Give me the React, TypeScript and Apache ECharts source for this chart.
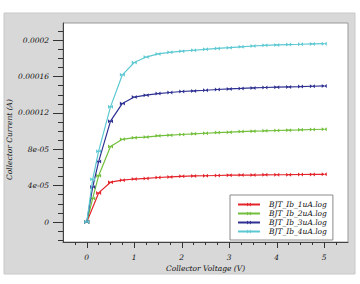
import React, { useEffect, useRef } from "react";
import * as echarts from "echarts";

const seriesNames = ["BJT_Ib_1uA.log", "BJT_Ib_2uA.log", "BJT_Ib_3uA.log", "BJT_Ib_4uA.log"];
const seriesColors = ["#e3242b", "#72bf3c", "#2e3192", "#5cc8d2"];

const xRed = [0, 0.25, 0.5, 0.75, 1, 1.25, 1.5, 1.75, 2, 2.25, 2.5, 2.75, 3, 3.25, 3.5, 3.75, 4, 4.25, 4.5, 4.75, 5];
const xFine = [0, 0.125, 0.25, 0.5, 0.75, 1, 1.25, 1.5, 1.75, 2, 2.25, 2.5, 2.75, 3, 3.25, 3.5, 3.75, 4, 4.25, 4.5, 4.75, 5];

const ib1 = [0, 3.2e-5, 4.38e-5, 4.6e-5, 4.73e-5, 4.8e-5, 4.9e-5, 4.96e-5, 5.03e-5, 5.07e-5, 5.09e-5, 5.12e-5, 5.15e-5, 5.16e-5, 5.17e-5, 5.19e-5, 5.2e-5, 5.21e-5, 5.23e-5, 5.24e-5, 5.25e-5];
const ib2 = [0, 2.6e-5, 5.1e-5, 8.3e-5, 9.1e-5, 9.28e-5, 9.35e-5, 9.48e-5, 9.56e-5, 9.63e-5, 9.7e-5, 9.77e-5, 9.84e-5, 9.89e-5, 9.95e-5, 1.0e-4, 1.003e-4, 1.007e-4, 1.011e-4, 1.014e-4, 1.018e-4, 1.021e-4];
const ib3 = [0, 3.85e-5, 6.65e-5, 1.11e-4, 1.305e-4, 1.375e-4, 1.396e-4, 1.413e-4, 1.425e-4, 1.436e-4, 1.443e-4, 1.45e-4, 1.458e-4, 1.465e-4, 1.47e-4, 1.476e-4, 1.48e-4, 1.484e-4, 1.487e-4, 1.49e-4, 1.494e-4, 1.498e-4];
const ib4 = [0, 4.7e-5, 7.8e-5, 1.267e-4, 1.62e-4, 1.755e-4, 1.815e-4, 1.85e-4, 1.867e-4, 1.88e-4, 1.89e-4, 1.9e-4, 1.91e-4, 1.918e-4, 1.928e-4, 1.937e-4, 1.944e-4, 1.949e-4, 1.953e-4, 1.956e-4, 1.96e-4, 1.963e-4];

const yMajorTicks = [0, 4e-5, 8e-5, 1.2e-4, 1.6e-4, 2e-4];
const yMajorLabels = ["0", "4e-05", "8e-05", "0.00012", "0.00016", "0.0002"];
const yMinorTicks = [-2e-5, -1e-5, 1e-5, 2e-5, 3e-5, 5e-5, 6e-5, 7e-5, 9e-5, 1e-4, 1.1e-4, 1.3e-4, 1.4e-4, 1.5e-4, 1.7e-4, 1.8e-4, 1.9e-4, 2.1e-4];
const xMajorTicks = [0, 1, 2, 3, 4, 5];
const xMajorLabels = ["0", "1", "2", "3", "4", "5"];
const xMinorTicks = [-0.25, 0.25, 0.5, 0.75, 1.25, 1.5, 1.75, 2.25, 2.5, 2.75, 3.25, 3.5, 3.75, 4.25, 4.5, 4.75, 5.25];

const X_MIN = -0.5;
const X_MAX = 5.5;
const Y_MIN = -0.000022;
const Y_MAX = 0.000219;

const FONT = "DejaVu Serif";
const MARKER = "path://M0,0L10,10L10,0L0,10Z";

function pairs(xs: number[], ys: number[]) {
  return xs.map((x, i) => [x, ys[i]]);
}

export default function App() {
  const ref = useRef<HTMLDivElement>(null);
  useEffect(() => {
    if (!ref.current) return;
    const chart = echarts.init(ref.current, undefined, { renderer: "svg" });
    const labelStyle = { fontFamily: FONT, fontStyle: "italic" as const, fontSize: 7.5, color: "#111" };
    const seriesData = [pairs(xRed, ib1), pairs(xFine, ib2), pairs(xFine, ib3), pairs(xFine, ib4)];
    chart.setOption({
      animation: false,
      backgroundColor: "#ffffff",
      graphic: [
        {
          type: "rect",
          silent: true,
          z: -100,
          shape: { x: 4, y: 13, width: 351, height: 261 },
          style: { fill: "#d8d8d8", stroke: "#c8c8c8", lineWidth: 1 },
        },
      ],
      grid: {
        left: 63,
        top: 23,
        right: 12,
        bottom: 42,
        containLabel: false,
        outerBoundsMode: "none",
        show: true,
        backgroundColor: "#ffffff",
        borderColor: "#9a9a9a",
        borderWidth: 1,
      },
      legend: {
        orient: "vertical",
        left: 230,
        top: 195,
        width: 110,
        padding: [5, 6, 4, 7],
        backgroundColor: "#ffffff",
        borderColor: "#8a8a8a",
        borderWidth: 1,
        borderRadius: 0,
        itemWidth: 22,
        itemHeight: 5,
        itemGap: 0,
        data: seriesNames,
        textStyle: { fontFamily: FONT, fontStyle: "italic", fontSize: 7.5, color: "#111", lineHeight: 9, padding: [0, 0, 0, 4] },
      },
      xAxis: [
        {
          type: "value",
          min: X_MIN,
          max: X_MAX,
          name: "Collector Voltage (V)",
          nameLocation: "middle",
          nameGap: 22,
          nameMoveOverlap: false,
          nameTextStyle: labelStyle,
          axisLine: { show: true, onZero: false, lineStyle: { color: "#444", width: 1 } },
          axisTick: { show: true, inside: false, length: 6, customValues: xMajorTicks, lineStyle: { color: "#333" } },
          axisLabel: {
            show: true,
            margin: 11,
            customValues: xMajorTicks,
            formatter: (v: number) => {
              const i = xMajorTicks.findIndex((t) => Math.abs(t - v) < 1e-9);
              return i >= 0 ? xMajorLabels[i] : "";
            },
            ...labelStyle,
          },
          splitLine: { show: false },
        },
        {
          type: "value",
          min: X_MIN,
          max: X_MAX,
          position: "bottom",
          axisLine: { show: false, onZero: false },
          axisTick: { show: true, inside: false, length: 3, customValues: xMinorTicks, lineStyle: { color: "#333" } },
          axisLabel: { show: false },
          splitLine: { show: false },
        },
      ],
      yAxis: [
        {
          type: "value",
          min: Y_MIN,
          max: Y_MAX,
          name: "Collector Current (A)",
          nameLocation: "middle",
          nameGap: 50,
          nameMoveOverlap: false,
          nameTextStyle: { ...labelStyle, padding: [0, 14, 0, 0] },
          axisLine: { show: true, onZero: false, lineStyle: { color: "#444", width: 1 } },
          axisTick: { show: true, inside: false, length: 10, customValues: yMajorTicks, lineStyle: { color: "#333" } },
          axisLabel: {
            show: true,
            margin: 14,
            customValues: yMajorTicks,
            formatter: (v: number) => {
              const i = yMajorTicks.findIndex((t) => Math.abs(t - v) < 1e-9);
              return i >= 0 ? yMajorLabels[i] : "";
            },
            ...labelStyle,
          },
          splitLine: { show: false },
        },
        {
          type: "value",
          min: Y_MIN,
          max: Y_MAX,
          position: "left",
          axisLine: { show: false, onZero: false },
          axisTick: { show: true, inside: false, length: 5, customValues: yMinorTicks, lineStyle: { color: "#333" } },
          axisLabel: { show: false },
          splitLine: { show: false },
        },
      ],
      series: seriesNames.map((name, i) => ({
        name,
        type: "line",
        xAxisIndex: 0,
        yAxisIndex: 0,
        data: seriesData[i],
        color: seriesColors[i],
        symbol: MARKER,
        symbolSize: [5, 4],
        showSymbol: true,
        lineStyle: { width: 1.2, color: seriesColors[i] },
        itemStyle: { color: seriesColors[i] },
        z: 2 + i,
      })),
    });
    return () => chart.dispose();
  }, []);
  return (
    <div
      ref={ref}
      style={{ position: "fixed", left: 0, top: 0, width: 360, height: 284 }}
    />
  );
}
